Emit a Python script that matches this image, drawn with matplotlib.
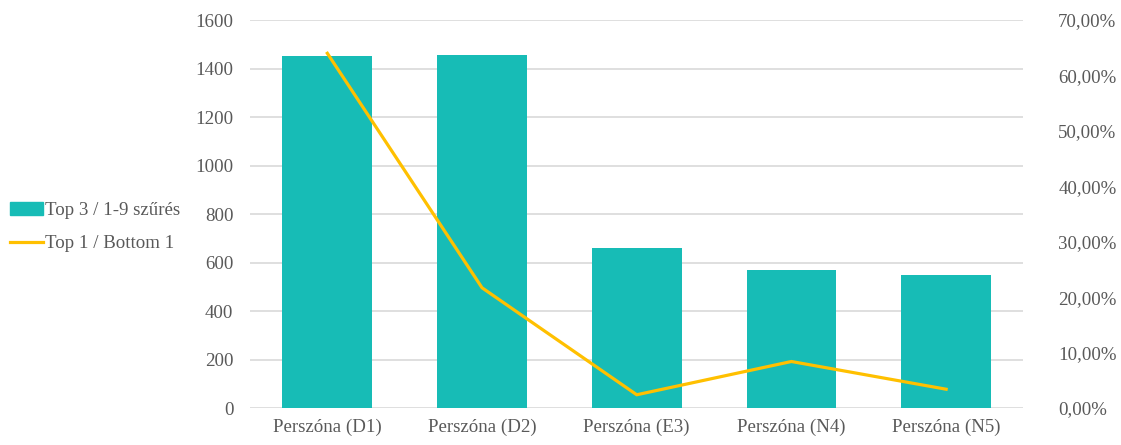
import numpy as np
import matplotlib.pyplot as plt
from matplotlib.ticker import FuncFormatter
from matplotlib.patches import Patch
from matplotlib.lines import Line2D

categories = ["Perszóna (D1)", "Perszóna (D2)", "Perszóna (E3)", "Perszóna (N4)", "Perszóna (N5)"]
top3 = [1451, 1456, 660, 568, 548]          # Top 3 / 1-9 szűrés
top1_ratio = [64.0, 21.7, 2.4, 8.4, 3.4]    # Top 1 / Bottom 1, percent

teal = "#17BCB6"
gold = "#FFC000"
txt = "#595959"
fs = 13.6

plt.rcParams['font.family'] = ['Liberation Serif', 'DejaVu Serif']
plt.rcParams['font.size'] = fs

fig = plt.figure(figsize=(11.21, 4.45), dpi=100)
ax = fig.add_axes([0.223, 0.083, 0.690, 0.872])
x = np.arange(len(categories))

ax.bar(x, top3, width=0.58, color=teal, zorder=2)
ax.set_ylim(0, 1600)
ax.set_yticks(np.arange(0, 1601, 200))
ax.set_xlim(-0.5, len(categories) - 0.5)
ax.set_xticks(x)
ax.set_xticklabels(categories)
ax.grid(axis='y', color='#d9d9d9', linewidth=1.2, zorder=0)
ax.set_axisbelow(True)
for s in ax.spines.values():
    s.set_visible(False)
ax.tick_params(length=0, colors=txt, labelsize=fs)
ax.tick_params(axis='y', pad=12)
ax.tick_params(axis='x', pad=8)

ax2 = ax.twinx()
ax2.plot(x, top1_ratio, color=gold, linewidth=2.3, zorder=3)
ax2.set_ylim(0, 70)
ax2.set_yticks(np.arange(0, 71, 10))
ax2.yaxis.set_major_formatter(FuncFormatter(lambda v, p: f"{v:.2f}%".replace(".", ",")))
for s in ax2.spines.values():
    s.set_visible(False)
ax2.tick_params(length=0, colors=txt, labelsize=fs, pad=25)

handles = [Patch(color=teal), Line2D([0], [0], color=gold, linewidth=2.3)]
labels = ["Top 3 / 1-9 szűrés", "Top 1 / Bottom 1"]
fig.legend(handles, labels, loc='center left', bbox_to_anchor=(-0.005, 0.49),
           frameon=False, fontsize=fs, labelcolor=txt, handlelength=1.75,
           handletextpad=0.15, labelspacing=0.85, borderpad=0.3)

fig.savefig("out.png", dpi=100)
